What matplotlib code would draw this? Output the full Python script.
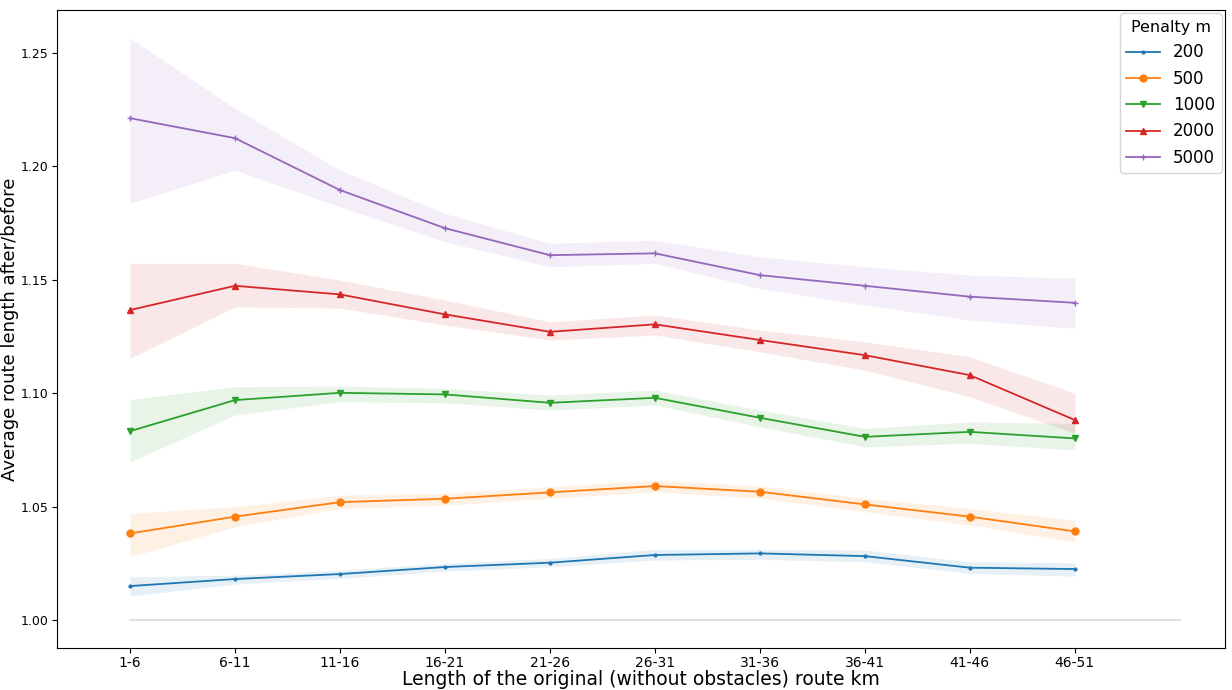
import matplotlib
matplotlib.use('Agg')
import matplotlib.pyplot as plt
import numpy as np

# route length bins (km)
bins = ["1-6", "6-11", "11-16", "16-21", "21-26", "26-31", "31-36", "36-41", "41-46", "46-51"]
penalties = ["200", "500", "1000", "2000", "5000"]

# mean ratio after/before per penalty
mean_200 = [1.0150, 1.0181, 1.0203, 1.0234, 1.0253, 1.0287, 1.0294, 1.0282, 1.0231, 1.0225]
mean_500 = [1.0382, 1.0456, 1.0520, 1.0535, 1.0563, 1.0591, 1.0566, 1.0510, 1.0456, 1.0391]
mean_1000 = [1.0833, 1.0970, 1.1002, 1.0995, 1.0958, 1.0980, 1.0892, 1.0808, 1.0830, 1.0801]
mean_2000 = [1.1367, 1.1474, 1.1436, 1.1348, 1.1271, 1.1304, 1.1235, 1.1168, 1.1080, 1.0882]
mean_5000 = [1.2213, 1.2125, 1.1896, 1.1728, 1.1609, 1.1617, 1.1521, 1.1474, 1.1426, 1.1399]

# confidence band (lower, upper)
low_200 = [1.0106, 1.0159, 1.0184, 1.0216, 1.0235, 1.0265, 1.0268, 1.0257, 1.0206, 1.0194]
up_200 = [1.0191, 1.0198, 1.0220, 1.0250, 1.0272, 1.0312, 1.0312, 1.0309, 1.0257, 1.0253]
low_500 = [1.0279, 1.0411, 1.0492, 1.0507, 1.0537, 1.0566, 1.0537, 1.0478, 1.0419, 1.0345]
up_500 = [1.0470, 1.0500, 1.0551, 1.0559, 1.0588, 1.0617, 1.0591, 1.0537, 1.0492, 1.0441]
low_1000 = [1.0698, 1.0904, 1.0963, 1.0958, 1.0926, 1.0948, 1.0852, 1.0764, 1.0779, 1.0750]
up_1000 = [1.0973, 1.1029, 1.1032, 1.1022, 1.0992, 1.1014, 1.0926, 1.0845, 1.0874, 1.0867]
low_2000 = [1.1154, 1.1381, 1.1376, 1.1301, 1.1235, 1.1257, 1.1183, 1.1102, 1.0985, 1.0823]
up_2000 = [1.1573, 1.1573, 1.1499, 1.1411, 1.1315, 1.1345, 1.1279, 1.1227, 1.1161, 1.1000]
low_5000 = [1.1837, 1.1984, 1.1822, 1.1668, 1.1558, 1.1573, 1.1462, 1.1389, 1.1323, 1.1286]
up_5000 = [1.2565, 1.2256, 1.1984, 1.1793, 1.1661, 1.1675, 1.1602, 1.1558, 1.1521, 1.1507]

means = [mean_200, mean_500, mean_1000, mean_2000, mean_5000]
lows = [low_200, low_500, low_1000, low_2000, low_5000]
ups = [up_200, up_500, up_1000, up_2000, up_5000]
markers = [".", "o", "v", "^", "+"]
msizes = [4, 5, 5, 5, 5]
colors = ["tab:blue", "tab:orange", "tab:green", "tab:red", "tab:purple"]

fig = plt.figure(figsize=(12.32, 6.9), dpi=100)
ax = fig.add_axes([0.0463, 0.0609, 0.948, 0.9246])

x = np.arange(len(bins))

# baseline at 1.0
ax.plot([0, len(bins)], [1.0, 1.0], color="#d9d9d9", linewidth=1.2)

for i in range(len(penalties)):
    ax.fill_between(x, lows[i], ups[i], color=colors[i], alpha=0.11, linewidth=0)
    ax.plot(x, means[i], color=colors[i], marker=markers[i], markersize=msizes[i],
            linewidth=1.3, label=penalties[i])

ax.set_xticks(x)
ax.set_xticklabels(bins)
ax.set_xlim(-0.695, 10.43)
ax.set_ylim(0.9877, 1.269)
ax.set_yticks([1.00, 1.05, 1.10, 1.15, 1.20, 1.25])
ax.tick_params(axis="x", labelsize=10, pad=2.5)
ax.tick_params(axis="y", labelsize=9, pad=2.5)
ax.set_xlabel("Length of the original (without obstacles) route km", fontsize=13.5, labelpad=0)
ax.set_ylabel("Average route length after/before", fontsize=13)
ax.yaxis.set_label_coords(-0.0325, 0.5)

ax.legend(title="Penalty m", fontsize=12, title_fontsize=11.5, loc="upper right",
          borderaxespad=0.2)

plt.savefig("out.png", dpi=100)
